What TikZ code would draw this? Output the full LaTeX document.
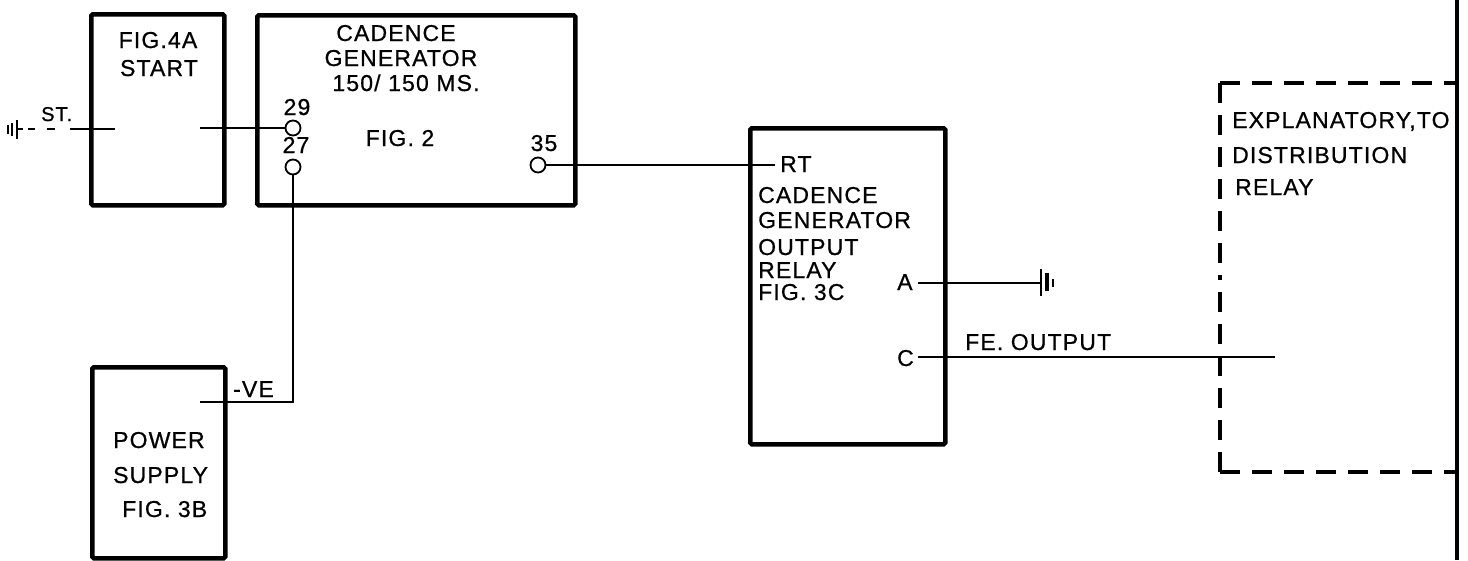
\documentclass[tikz,border=0pt]{standalone}
\usepackage{fontspec}
\setmainfont{Liberation Sans}[LetterSpace=5,FakeBold=0.7]
\begin{document}
\begin{tikzpicture}[x=1pt,y=-1pt,
  box/.style={draw, line width=4.5pt, inner sep=0pt, anchor=north west, rounded corners=1.5pt},
  wire/.style={line width=1.8pt},
  lbl/.style={inner sep=0pt, anchor=base west, font=\fontsize{23}{26}\selectfont},
  clbl/.style={inner sep=0pt, anchor=base, font=\fontsize{23}{26}\selectfont},
  slbl/.style={inner sep=0pt, anchor=base west, font=\fontsize{20}{22}\selectfont},
  term/.style={circle, draw, line width=1.8pt, minimum size=15pt, inner sep=0pt},
  gbar/.style={line width=2.6pt},
  dbox/.style={line width=3.8pt, dash pattern=on 20pt off 12pt}]
\useasboundingbox (0,0) rectangle (1468,560);

% boxes
\node[box, minimum width=133pt, minimum height=191pt] (start) at (89,12) {};
\node[box, minimum width=318pt, minimum height=190pt] (cg) at (255,13) {};
\node[box, minimum width=133pt, minimum height=191pt] (pwr) at (90,365) {};
\node[box, minimum width=195pt, minimum height=316pt] (rly) at (748,126) {};

% terminals
\node[term] (p29) at (293,128) {};
\node[term] (p27) at (293,167) {};
\node[term] (p35) at (538,165) {};

% texts: start
\node[clbl] (t1) at (158,48) {FIG.4A};
\node[clbl] (t2) at (159,76) {START};
% cadence generator
\node[clbl] (t3) at (396,41) {CADENCE};
\node[clbl] (t4) at (401,66) {GENERATOR};
\node[clbl] (t5) at (406,91) {150/ 150 MS.};
\node[clbl] (t6) at (400,146) {FIG. 2};
\node[clbl] (t29) at (297,115) {29};
\node[clbl] (t27) at (296,153) {27};
\node[clbl] (t35) at (544,151) {35};
% power supply
\node[lbl] (t7) at (113,448) {POWER};
\node[lbl] (t8) at (113,483) {SUPPLY};
\node[lbl] (t9) at (122,517) {FIG. 3B};
\node[lbl] (tve) at (233,397) {-VE};
% relay
\node[lbl] (t10) at (780,172) {RT};
\node[lbl] (t11) at (758,203) {CADENCE};
\node[lbl] (t12) at (758,228) {GENERATOR};
\node[lbl] (t13) at (758,255) {OUTPUT};
\node[lbl] (t14) at (758,278) {RELAY};
\node[lbl] (t15) at (758,300) {FIG. 3C};
\node[lbl] (tA) at (897,290) {A};
\node[lbl] (tC) at (897,366) {C};
\node[lbl] (tfe) at (965,350) {FE. OUTPUT};
% explanatory
\node[lbl] (t16) at (1232,128) {EXPLANATORY,TO};
\node[lbl] (t17) at (1232,163) {DISTRIBUTION};
\node[lbl] (t18) at (1235,195) {RELAY};
\node[slbl] (tst) at (41,121) {ST.};

% coordinates
\coordinate (g1) at (17,129);
\coordinate (stj) at (70,129);
\coordinate (stin) at (115,129);
\coordinate (stout) at (200,128);
\coordinate (vecorner) at (293,402);
\coordinate (vein) at (200,402);
\coordinate (rtin) at (775,165);
\coordinate (ain) at (918,283);
\coordinate (ag) at (1041,283);
\coordinate (cin) at (918,357);
\coordinate (cout) at (1275,357);

% connectors
\draw[wire, dash pattern=on 6pt off 5pt on 7pt off 12pt on 8pt off 15pt] (g1) -- (stj);
\draw[wire] (stj) -- (stin);
\draw[wire] (stout) -- (p29.west);
\draw[wire] (p27.south) -- (vecorner) -- (vein);
\draw[wire] (p35.east) -- (rtin);
\draw[wire] (ain) -- (ag);
\draw[wire] (cin) -- (cout);

% earth symbols
\draw[gbar] (17,120) -- (17,139);
\draw[gbar] (12,123) -- (12,136);
\draw[gbar] (8,125) -- (8,134);
\draw[gbar] (1041,269) -- (1041,296);
\draw[line width=3.2pt] (1047,273) -- (1047,291);
\draw[gbar] (1053,279) -- (1053,287);

% dashed box
\draw[dbox] (1220,83) -- (1457,83);
\draw[dbox] (1220,472) -- (1457,472);
\draw[dbox] (1220,83) -- (1220,278);
\draw[dbox] (1220,472) -- (1220,278);
\draw[line width=3.2pt] (1457,0) -- (1457,560);
\end{tikzpicture}
\end{document}
